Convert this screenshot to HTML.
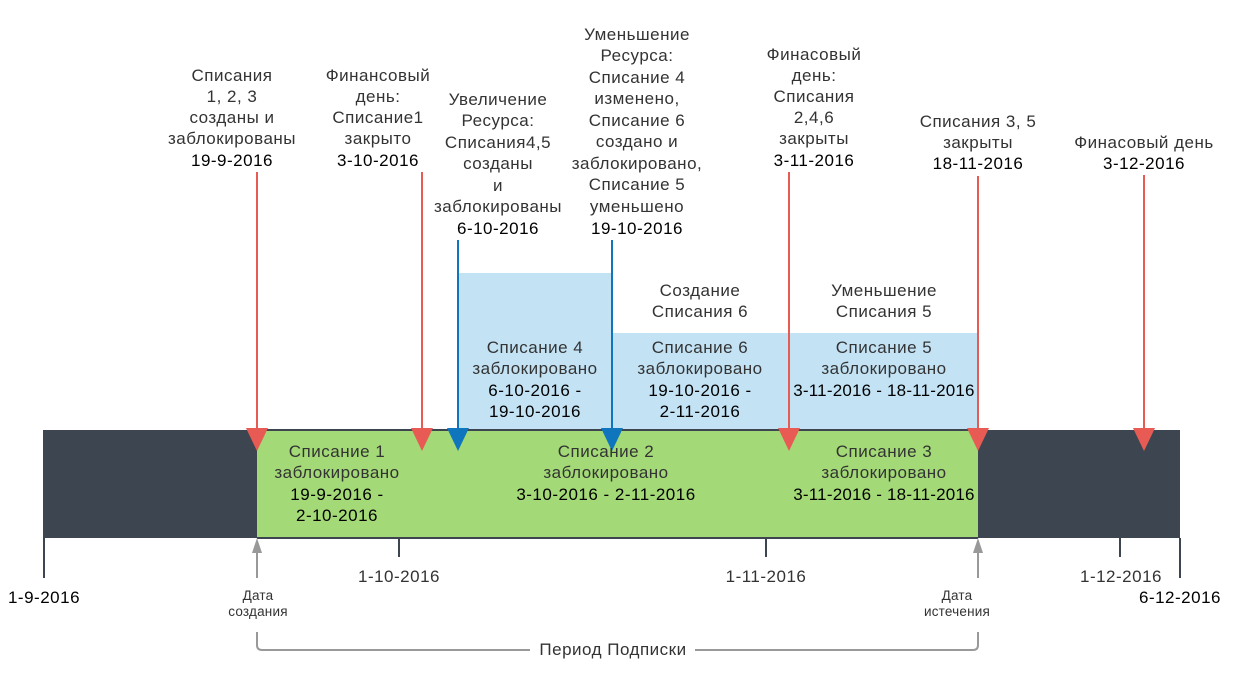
<!DOCTYPE html>
<html><head><meta charset="utf-8"><style>
html,body{margin:0;padding:0;background:#fff;}
svg{display:block;}
text{font-family:"Liberation Sans",sans-serif;font-size:17px;letter-spacing:0.5px;fill:#333;text-anchor:middle;}
.d{fill:#000;}
.s{font-size:13.5px;letter-spacing:0.2px;}
</style></head><body>
<svg width="1233" height="685" viewBox="0 0 1233 685" xmlns="http://www.w3.org/2000/svg">
<rect x="43" y="430" width="1137" height="108" fill="#3d4650"/>
<rect x="257" y="430" width="721" height="108" fill="#a3d977"/>
<rect x="458" y="273" width="154" height="157" fill="#c3e3f5"/>
<rect x="612" y="333" width="366" height="97" fill="#c3e3f5"/>
<line x1="257" y1="430" x2="978" y2="430" stroke="#3d4650" stroke-width="2"/>
<line x1="257" y1="538" x2="978" y2="538" stroke="#3d4650" stroke-width="2"/>
<g stroke="#3d4650" stroke-width="2">
<line x1="44" y1="538" x2="44" y2="578"/>
<line x1="399" y1="538" x2="399" y2="557"/>
<line x1="766" y1="538" x2="766" y2="557"/>
<line x1="1120" y1="538" x2="1120" y2="557"/>
<line x1="1180" y1="538" x2="1180" y2="578"/>
</g>
<g stroke="#e85b54" stroke-width="2">
<line x1="257" y1="172" x2="257" y2="432"/>
<line x1="422" y1="172" x2="422" y2="432"/>
<line x1="789" y1="172" x2="789" y2="432"/>
<line x1="978" y1="176" x2="978" y2="432"/>
<line x1="1144" y1="175" x2="1144" y2="432"/>
</g>
<g fill="#e85b54">
<polygon points="246,428 268,428 257,451"/>
<polygon points="411,428 433,428 422,451"/>
<polygon points="778,428 800,428 789,451"/>
<polygon points="967,428 989,428 978,451"/>
<polygon points="1133,428 1155,428 1144,451"/>
</g>
<g stroke="#0f75bd" stroke-width="2">
<line x1="458" y1="240" x2="458" y2="432"/>
<line x1="612" y1="240" x2="612" y2="432"/>
</g>
<g fill="#0f75bd">
<polygon points="447,428 469,428 458,451"/>
<polygon points="601,428 623,428 612,451"/>
</g>
<g stroke="#999" stroke-width="2" fill="none">
<line x1="257" y1="578" x2="257" y2="550"/>
<line x1="978" y1="578" x2="978" y2="550"/>
<path d="M257 632 V645 Q257 650 262 650 H530"/>
<path d="M695 650 H973 Q978 650 978 645 V632"/>
</g>
<g fill="#999">
<polygon points="252,553 262,553 257,538"/>
<polygon points="973,553 983,553 978,538"/>
</g>

<text x="232" y="81">Списания</text>
<text x="232" y="102">1, 2, 3</text>
<text x="232" y="123">созданы и</text>
<text x="232" y="144">заблокированы</text>
<text x="232" y="166" class="d">19-9-2016</text>

<text x="378" y="81">Финансовый</text>
<text x="378" y="102">день:</text>
<text x="378" y="123">Списание1</text>
<text x="378" y="144">закрыто</text>
<text x="378" y="166" class="d">3-10-2016</text>

<text x="498" y="105">Увеличение</text>
<text x="498" y="126">Ресурса:</text>
<text x="498" y="148">Списания4,5</text>
<text x="498" y="169">созданы</text>
<text x="498" y="191">и</text>
<text x="498" y="212">заблокированы</text>
<text x="498" y="234" class="d">6-10-2016</text>

<text x="637" y="40">Уменьшение</text>
<text x="637" y="61">Ресурса:</text>
<text x="637" y="83">Списание 4</text>
<text x="637" y="104">изменено,</text>
<text x="637" y="126">Списание 6</text>
<text x="637" y="147">создано и</text>
<text x="637" y="169">заблокировано,</text>
<text x="637" y="190">Списание 5</text>
<text x="637" y="212">уменьшено</text>
<text x="637" y="234" class="d">19-10-2016</text>

<text x="814" y="60">Финасовый</text>
<text x="814" y="81">день:</text>
<text x="814" y="102">Списания</text>
<text x="814" y="123">2,4,6</text>
<text x="814" y="144">закрыты</text>
<text x="814" y="166" class="d">3-11-2016</text>

<text x="978" y="127">Списания 3, 5</text>
<text x="978" y="148">закрыты</text>
<text x="978" y="169" class="d">18-11-2016</text>

<text x="1144" y="148">Финасовый день</text>
<text x="1144" y="169" class="d">3-12-2016</text>

<text x="700" y="296">Создание</text>
<text x="700" y="317">Списания 6</text>
<text x="884" y="296">Уменьшение</text>
<text x="884" y="317">Списания 5</text>

<text x="535" y="353">Списание 4</text>
<text x="535" y="374">заблокировано</text>
<text x="535" y="396" class="d">6-10-2016 -</text>
<text x="535" y="417" class="d">19-10-2016</text>

<text x="700" y="353">Списание 6</text>
<text x="700" y="374">заблокировано</text>
<text x="700" y="396" class="d">19-10-2016 -</text>
<text x="700" y="417" class="d">2-11-2016</text>

<text x="884" y="353">Списание 5</text>
<text x="884" y="374">заблокировано</text>
<text x="884" y="396" class="d" style="letter-spacing:0.2px">3-11-2016 - 18-11-2016</text>

<text x="337" y="457">Списание 1</text>
<text x="337" y="478">заблокировано</text>
<text x="337" y="500" class="d">19-9-2016 -</text>
<text x="337" y="521" class="d">2-10-2016</text>

<text x="606" y="457">Списание 2</text>
<text x="606" y="478">заблокировано</text>
<text x="606" y="500" class="d">3-10-2016 - 2-11-2016</text>

<text x="884" y="457">Списание 3</text>
<text x="884" y="478">заблокировано</text>
<text x="884" y="500" class="d" style="letter-spacing:0.2px">3-11-2016 - 18-11-2016</text>

<text x="44" y="603" class="d">1-9-2016</text>
<text x="399" y="582">1-10-2016</text>
<text x="766" y="582">1-11-2016</text>
<text x="1121" y="582">1-12-2016</text>
<text x="1180" y="603" class="d">6-12-2016</text>
<text x="258" y="600" class="s">Дата</text>
<text x="258" y="616" class="s">создания</text>
<text x="957" y="600" class="s">Дата</text>
<text x="957" y="616" class="s">истечения</text>
<text x="613" y="655">Период Подписки</text>
</svg>
</body></html>
